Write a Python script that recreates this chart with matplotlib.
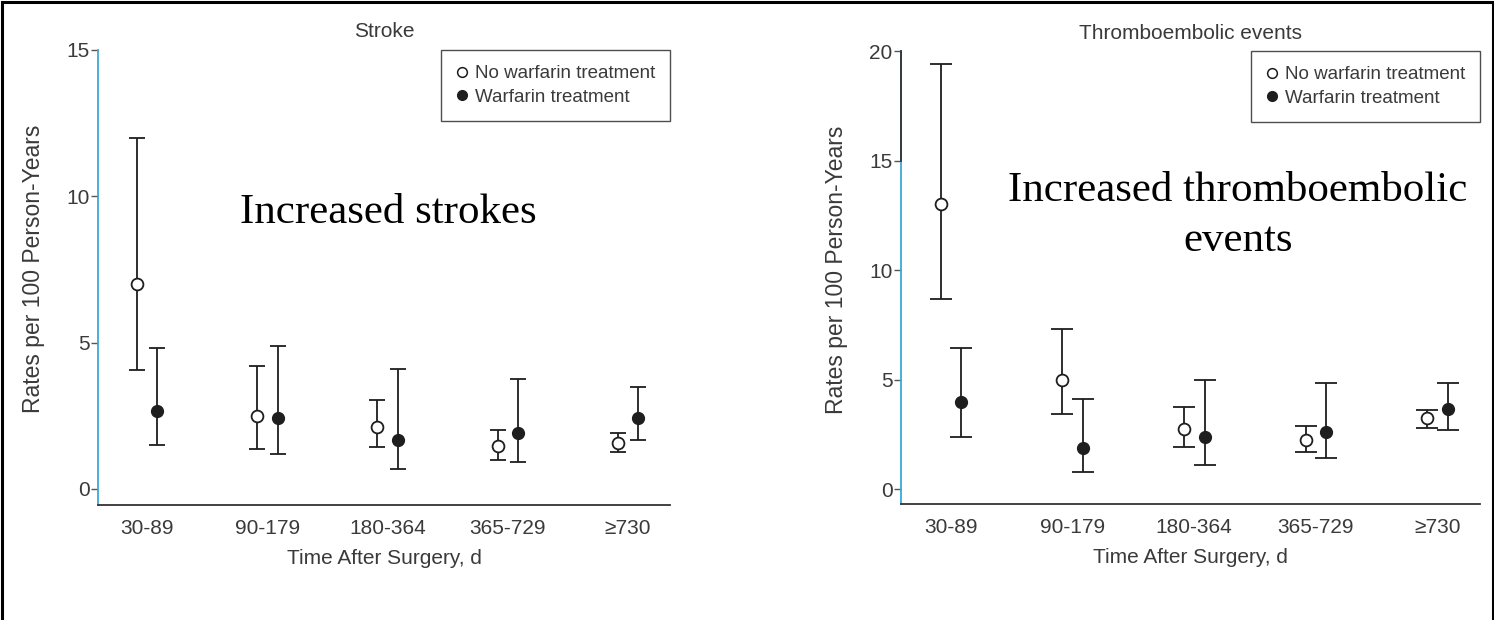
import matplotlib.pyplot as plt
from matplotlib.lines import Line2D
from matplotlib.patches import Rectangle
import numpy as np

# Time windows after surgery
periods = ['30-89', '90-179', '180-364', '365-729', '\u2265730']

# Stroke rates per 100 person-years (point, lower CI, upper CI)
stroke_no = [7.0, 2.5, 2.1, 1.45, 1.58]
stroke_no_lo = [4.05, 1.37, 1.42, 1.0, 1.27]
stroke_no_hi = [12.0, 4.2, 3.03, 2.0, 1.9]
stroke_w = [2.66, 2.43, 1.68, 1.92, 2.43]
stroke_w_lo = [1.5, 1.2, 0.69, 0.93, 1.68]
stroke_w_hi = [4.82, 4.9, 4.1, 3.77, 3.47]

# Thromboembolic event rates per 100 person-years
te_no = [13.0, 5.0, 2.74, 2.24, 3.23]
te_no_lo = [8.66, 3.44, 1.93, 1.71, 2.78]
te_no_hi = [19.4, 7.3, 3.74, 2.9, 3.6]
te_w = [3.96, 1.88, 2.39, 2.62, 3.64]
te_w_lo = [2.37, 0.8, 1.08, 1.4, 2.7]
te_w_hi = [6.45, 4.1, 5.0, 4.83, 4.83]

sans = ['Liberation Sans', 'DejaVu Sans']
serif = ['Liberation Serif', 'DejaVu Serif']
txt = '#3a3a3a'
blue = '#3aa9d6'
ink = '#1e1e1e'

fig = plt.figure(figsize=(14.94, 6.2), dpi=100)
ax1 = fig.add_axes([0.0656, 0.1855, 0.3829, 0.7339])
ax2 = fig.add_axes([0.6031, 0.1871, 0.3876, 0.7306])


def draw_panel(ax, no, no_lo, no_hi, w, w_lo, w_hi, ylim, yticks, cap):
    x = np.arange(len(periods))
    off = 0.085
    no, w = np.array(no), np.array(w)
    ax.errorbar(x - off, no, yerr=[no - np.array(no_lo), np.array(no_hi) - no],
                fmt='o', mfc='white', mec=ink, mew=1.3, ms=8.5, color=ink,
                elinewidth=1.3, capsize=cap, capthick=1.3, zorder=3)
    ax.errorbar(x + off, w, yerr=[w - np.array(w_lo), np.array(w_hi) - w],
                fmt='o', mfc=ink, mec=ink, ms=8.5, color=ink,
                elinewidth=1.3, capsize=cap, capthick=1.3, zorder=3)
    ax.set_xlim(-0.41, 4.35)
    ax.set_ylim(*ylim)
    ax.set_yticks(yticks)
    ax.set_xticks(x)
    ax.set_xticklabels(periods)
    for s in ['top', 'right']:
        ax.spines[s].set_visible(False)
    ax.spines['left'].set_color(blue)
    ax.spines['left'].set_linewidth(1.3)
    ax.spines['bottom'].set_color('#333333')
    ax.spines['bottom'].set_linewidth(1.3)
    ax.tick_params(axis='x', length=0, pad=10, labelsize=15, labelcolor=txt)
    ax.tick_params(axis='y', length=5, width=1, color='#555555', pad=1,
                   labelsize=15, labelcolor=txt)
    for lab in ax.get_xticklabels() + ax.get_yticklabels():
        lab.set_family(sans)
    ax.set_xlabel('Time After Surgery, d', fontsize=15, color=txt,
                  family=sans, labelpad=8)
    ax.set_ylabel('Rates per 100 Person-Years', fontsize=16.5, color=txt,
                  family=sans)
    handles = [Line2D([], [], ls='none', marker='o', mfc='white', mec=ink,
                      mew=1.1, ms=7),
               Line2D([], [], ls='none', marker='o', mfc=ink, mec=ink, ms=7)]
    leg = ax.legend(handles, ['No warfarin treatment', 'Warfarin treatment'],
                    loc='upper right', bbox_to_anchor=(1.0, 1.0),
                    borderaxespad=0, fancybox=False, edgecolor='#222222',
                    handlelength=0.6, handletextpad=0.4, borderpad=0.8,
                    labelspacing=0.35, prop={'family': sans, 'size': 13.5})
    leg.get_frame().set_linewidth(1.0)
    for t in leg.get_texts():
        t.set_color(txt)


draw_panel(ax1, stroke_no, stroke_no_lo, stroke_no_hi,
           stroke_w, stroke_w_lo, stroke_w_hi, (-0.55, 15), [0, 5, 10, 15], 5.5)
draw_panel(ax2, te_no, te_no_lo, te_no_hi,
           te_w, te_w_lo, te_w_hi, (-0.68, 20), [0, 5, 10, 15, 20], 8)

ax1.yaxis.set_label_coords(-0.093, 0.519)
ax2.yaxis.set_label_coords(-0.0915, 0.517)

# upper part of the thromboembolic y-axis is drawn dark
ax2.plot([0, 0], [15, 20], color='#333333', lw=1.3,
         transform=ax2.get_yaxis_transform(), clip_on=False, zorder=4)

ax1.set_title('Stroke', fontsize=15, color=txt, family=sans, pad=9)
ax2.set_title('Thromboembolic events', fontsize=15, color=txt, family=sans,
              pad=9)

fig.text(388 / 1494, 1 - 213 / 620, 'Increased strokes', family=serif,
         fontsize=31, color='black', ha='center', va='center')
fig.text(1238 / 1494, 1 - 216 / 620, 'Increased thromboembolic\nevents',
         family=serif, fontsize=31, color='black', ha='center', va='center',
         linespacing=1.39)

# outer frame
fig.patches.append(Rectangle((0.0015, -0.01), 0.9975, 1.0065,
                             transform=fig.transFigure, fill=False,
                             edgecolor='black', lw=2.2))

fig.savefig('out.png', dpi=100)
